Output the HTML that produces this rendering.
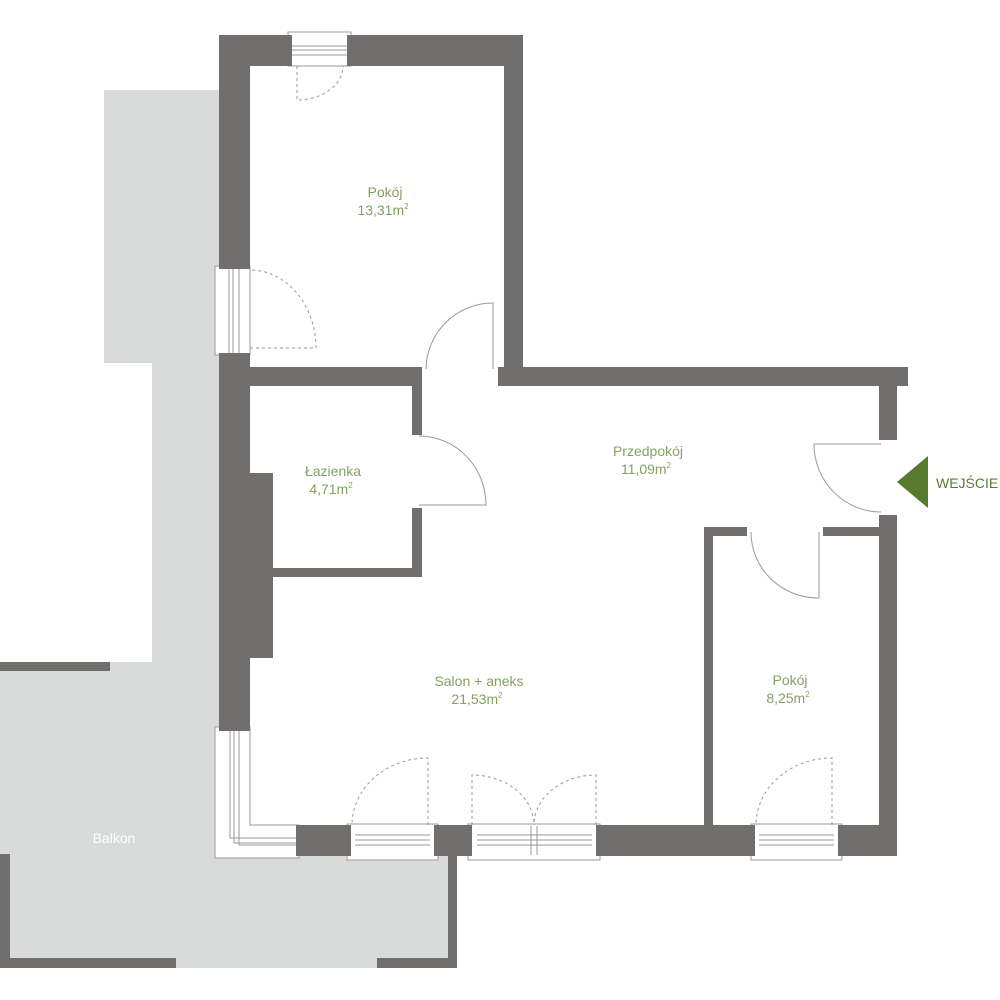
<!DOCTYPE html>
<html><head><meta charset="utf-8"><style>
html,body{margin:0;padding:0;background:#fff}
svg{display:block}
text{font-family:"Liberation Sans",sans-serif;}
.l{fill:#86a063;font-size:14px;text-anchor:middle}
</style></head><body>
<svg width="1000" height="1000" viewBox="0 0 1000 1000" xmlns="http://www.w3.org/2000/svg">
<!-- balcony gray -->
<g fill="#d9dbda">
<rect x="104" y="90" width="116" height="273"/>
<rect x="152" y="90" width="68" height="770"/>
<rect x="0" y="662" width="220" height="306"/>
<rect x="215" y="855" width="242" height="113"/>
</g>
<!-- balcony walls -->
<g fill="#706f6d">
<rect x="0" y="662" width="110" height="9"/>
<rect x="0" y="854" width="10" height="114"/>
<rect x="0" y="958" width="176" height="10"/>
<rect x="377" y="958" width="80" height="10"/>
<rect x="448" y="855" width="9" height="113"/>
</g>
<!-- window white frames -->
<g fill="#fff" stroke="#9a9a9a" stroke-width="1">
<rect x="288" y="32" width="63" height="34"/>
<rect x="215" y="266" width="35" height="89"/>
<path d="M215 727 H250 V825 H299 V858 H215 Z"/>
<rect x="347" y="824" width="91" height="36"/>
<rect x="468" y="824" width="132" height="36"/>
<rect x="751" y="824" width="91" height="36"/>
</g>
<g fill="none" stroke="#9a9a9a" stroke-width="1">
<line x1="292" y1="46" x2="347" y2="46"/><line x1="292" y1="50" x2="347" y2="50"/><line x1="292" y1="55" x2="347" y2="55"/>
<line x1="229" y1="269" x2="229" y2="353"/><line x1="233" y1="269" x2="233" y2="353"/><line x1="239" y1="269" x2="239" y2="353"/>
<path d="M230 731 V838 H296"/><path d="M234 731 V843 H296"/><path d="M239 731 V845 H296"/>
<line x1="355" y1="835" x2="430" y2="835"/><line x1="355" y1="840" x2="430" y2="840"/><line x1="355" y1="845" x2="430" y2="845"/>
<line x1="477" y1="835" x2="592" y2="835"/><line x1="477" y1="840" x2="592" y2="840"/><line x1="477" y1="845" x2="592" y2="845"/>
<line x1="531" y1="826" x2="531" y2="855"/><line x1="537" y1="826" x2="537" y2="855"/>
<line x1="759" y1="835" x2="834" y2="835"/><line x1="759" y1="840" x2="834" y2="840"/><line x1="759" y1="845" x2="834" y2="845"/>
</g>
<!-- walls -->
<g fill="#706f6d">
<rect x="219" y="35" width="73" height="31"/>
<rect x="347" y="35" width="176" height="31"/>
<rect x="219" y="35" width="31" height="234"/>
<rect x="219" y="353" width="31" height="378"/>
<rect x="250" y="473" width="23" height="185"/>
<rect x="504" y="35" width="19" height="332"/>
<rect x="498" y="367" width="410" height="19"/>
<rect x="250" y="367" width="172" height="19"/>
<rect x="412" y="367" width="10" height="68"/>
<rect x="412" y="508" width="10" height="69"/>
<rect x="273" y="568" width="149" height="9"/>
<rect x="879" y="367" width="18" height="73"/>
<rect x="879" y="515" width="18" height="340"/>
<rect x="704" y="527" width="9" height="300"/>
<rect x="704" y="527" width="43" height="9"/>
<rect x="823" y="527" width="57" height="9"/>
<rect x="296" y="825" width="55" height="31"/>
<rect x="434" y="825" width="38" height="31"/>
<rect x="596" y="825" width="159" height="31"/>
<rect x="838" y="825" width="59" height="31"/>
</g>
<!-- solid doors -->
<g fill="none" stroke="#9a9a9a" stroke-width="1">
<path d="M493 369 V303 A67 67 0 0 0 426 369"/>
<path d="M419 505 H486 A67 69 0 0 0 419 436"/>
<path d="M881 444 H814 A67 68 0 0 0 881 512"/>
<path d="M819 532 V598 A67 66 0 0 1 751 532"/>
</g>
<!-- dashed doors -->
<g fill="none" stroke="#9a9a9a" stroke-width="1" stroke-dasharray="3,3">
<path d="M297 66 V100 A46 34 0 0 0 343 66"/>
<path d="M250 348 H316 A66 78 0 0 0 250 270"/>
<path d="M428 825 V758 A76 67 0 0 0 352 825"/>
<path d="M472 825 V775 A62 50 0 0 1 534 825"/>
<path d="M596 825 V775 A62 50 0 0 0 534 825"/>
<path d="M832 825 V758 A76 67 0 0 0 756 825"/>
</g>
<!-- labels -->
<text class="l" x="385" y="197">Pokój</text>
<text class="l" x="383" y="215">13,31m<tspan font-size="8" dy="-6">2</tspan></text>
<text class="l" x="333" y="476">Łazienka</text>
<text class="l" x="331" y="494">4,71m<tspan font-size="8" dy="-6">2</tspan></text>
<text class="l" x="648" y="456">Przedpokój</text>
<text class="l" x="646" y="474">11,09m<tspan font-size="8" dy="-6">2</tspan></text>
<text class="l" x="479" y="686">Salon + aneks</text>
<text class="l" x="477" y="704">21,53m<tspan font-size="8" dy="-6">2</tspan></text>
<text class="l" x="790" y="685">Pokój</text>
<text class="l" x="788" y="703">8,25m<tspan font-size="8" dy="-6">2</tspan></text>
<polygon points="897,482 928,456 928,508" fill="#587a2c"/>
<text x="936" y="488" fill="#5c7a36" font-size="14">WEJŚCIE</text>
<text x="114" y="843" fill="#fff" font-size="14" text-anchor="middle">Balkon</text>
</svg>
</body></html>
